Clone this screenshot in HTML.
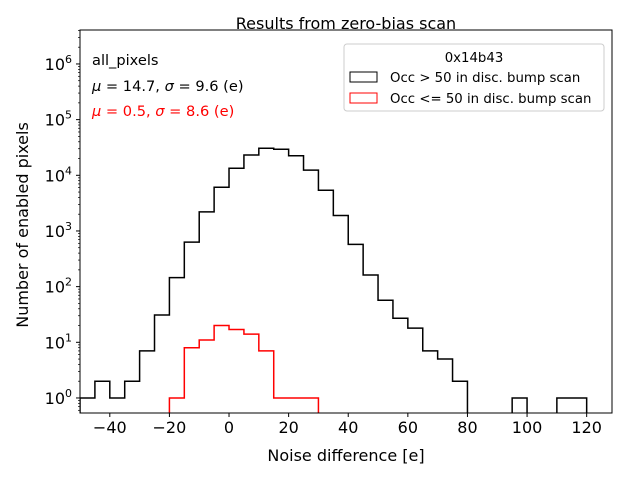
<!DOCTYPE html>
<html><head><meta charset="utf-8"><style>
body{margin:0;background:#fff;}
svg{display:block;font-family:"DejaVu Sans","Liberation Sans",sans-serif;}
</style></head><body>
<svg id="chart" width="640" height="480" viewBox="0 0 640 480">
<text x="346" y="29" text-anchor="middle" font-size="16">Results from zero-bias scan</text>
<g id="plot"></g>
<text x="92" y="65" font-size="14.6">all_pixels</text>
<text x="92" y="91" font-size="14.6"><tspan font-style="italic">μ</tspan> = 14.7, <tspan font-style="italic">σ</tspan> = 9.6 (e)</text>
<text x="92" y="116" font-size="14.6" fill="red"><tspan font-style="italic">μ</tspan> = 0.5, <tspan font-style="italic">σ</tspan> = 8.6 (e)</text>
<g>
<rect x="344" y="44" width="260" height="67" rx="3" fill="#fff" stroke="#ccc"/>
<text x="474" y="62" text-anchor="middle" font-size="13.3">0x14b43</text>
<rect x="350" y="72" width="27" height="10" fill="none" stroke="#000"/>
<text x="390" y="82" font-size="13.3">Occ &gt; 50 in disc. bump scan</text>
<rect x="350" y="93" width="27" height="10" fill="none" stroke="red"/>
<text x="390" y="103" font-size="13.3">Occ &lt;= 50 in disc. bump scan</text>
</g>
<text x="346" y="461" text-anchor="middle" font-size="16">Noise difference [e]</text>
<text transform="translate(28,225) rotate(-90)" text-anchor="middle" font-size="16">Number of enabled pixels</text>
</svg>
<script>
const binStart = -50;
const binWidth = 5;
const blackCounts = [1,2,1,2,7,31,145,630,2200,6100,13400,23200,30600,29300,22400,12400,5400,1900,575,162,57,27,18,7,5,2,0,0,0,1,0,0,1,1];
const redCounts = [0,0,0,0,0,0,1,8,11,20,17,14,7,1,1,1];
const xTicks = [-40,-20,0,20,40,60,80,100,120];
const yTicksExp = [0,1,2,3,4,5,6];

const L=80,R=612,T=30,B=413;
const xmin=-50,xmax=128.5;
const ylo=-0.27,yhi=6.61;
const xs=v=>L+(v-xmin)/(xmax-xmin)*(R-L);
const ys=c=>c<=0?B+5:B-(Math.log10(c)-ylo)/(yhi-ylo)*(B-T);
const NS="http://www.w3.org/2000/svg";
const plot=document.getElementById('plot');
function mk(tag,attrs){const e=document.createElementNS(NS,tag);for(const k in attrs)e.setAttribute(k,attrs[k]);return e;}

const clip=mk('clipPath',{id:'clip'});clip.appendChild(mk('rect',{x:L,y:T,width:R-L,height:B-T}));
plot.appendChild(clip);

function stepPath(counts){
  let d='M'+xs(binStart)+','+(B+5);
  counts.forEach((c,i)=>{const x0=xs(binStart+i*binWidth),x1=xs(binStart+(i+1)*binWidth);const y=ys(c);d+=' L'+x0+','+y+' L'+x1+','+y;});
  d+=' L'+xs(binStart+counts.length*binWidth)+','+(B+5);
  return d;
}
const pb=mk('path',{d:stepPath(blackCounts),fill:'none',stroke:'#000','stroke-width':1.5,'clip-path':'url(#clip)'});


plot.appendChild(pb);
const pr=mk('path',{d:stepPath(redCounts),fill:'none',stroke:'red','stroke-width':1.5,'clip-path':'url(#clip)'});


plot.appendChild(pr);

const frame=mk('rect',{x:L,y:T,width:R-L,height:B-T,fill:'none',stroke:'#000','stroke-width':1});


plot.appendChild(frame);

xTicks.forEach(v=>{
  const x=xs(v);
  const t=mk('line',{x1:x,x2:x,y1:B,y2:B+4,stroke:'#000'});
  
  
  plot.appendChild(t);
  const lb=mk('text',{x:x,y:B+20,'text-anchor':'middle','font-size':16});
  lb.textContent=v<0?'\u2212'+(-v):String(v);
  
  
  plot.appendChild(lb);
});
yTicksExp.forEach(e=>{
  const y=ys(Math.pow(10,e));
  const t=mk('line',{x1:L-4,x2:L,y1:y,y2:y,stroke:'#000'});
  
  
  plot.appendChild(t);
  const lb=mk('text',{x:L-8,y:y+6,'text-anchor':'end','font-size':16});
  lb.innerHTML='10<tspan dy="-7" font-size="11">'+e+'</tspan>';
  
  
  plot.appendChild(lb);
  for(let m=2;m<=9;m++){
    const v=Math.log10(m)+e;
    if(v>yhi)break;
    const ym=ys(Math.pow(10,v));
    const mt=mk('line',{x1:L-2,x2:L,y1:ym,y2:ym,stroke:'#000','stroke-width':0.7});
    
    
    plot.appendChild(mt);
  }
});
[-1].forEach(e=>{for(let m=3;m<=9;m++){const v=Math.log10(m)+e;if(v<ylo)continue;const ym=ys(Math.pow(10,v));
  const mt=mk('line',{x1:L-2,x2:L,y1:ym,y2:ym,stroke:'#000','stroke-width':0.7});
  
  
  plot.appendChild(mt);}});
</script>
</body></html>
